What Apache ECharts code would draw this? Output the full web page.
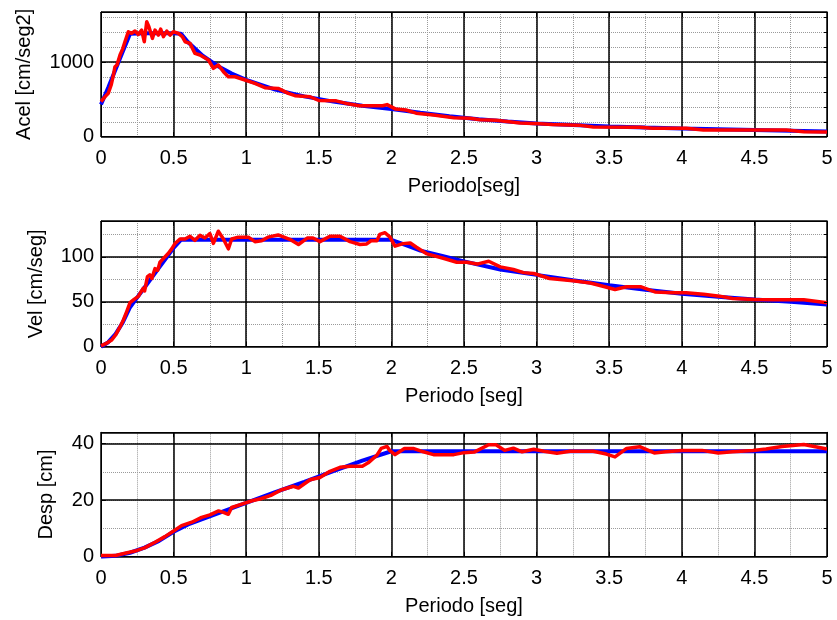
<!DOCTYPE html>
<html>
<head>
<meta charset="utf-8">
<script src="https://cdn.jsdelivr.net/npm/echarts@6/dist/echarts.min.js"></script>
<style>
  html, body { margin: 0; padding: 0; background: #fff; }
  #chart { width: 837px; height: 620px; }
</style>
</head>
<body>
<div id="chart"></div>
<script>
// ---- Target (design) spectra, blue ----
const periodAccTarget = [0, 0.05, 0.1, 0.15, 0.2, 0.3, 0.4, 0.5, 0.55, 0.6, 0.7, 0.8, 0.9, 1.0, 1.2, 1.4, 1.6, 1.8, 2.0, 2.2, 2.4, 2.6, 2.8, 3.0, 3.25, 3.5, 3.75, 4.0, 4.25, 4.5, 4.75, 5.0];
const accTarget = [430, 660, 900, 1140, 1380, 1385, 1385, 1385, 1380, 1265, 1085, 950, 845, 760, 630, 540, 470, 415, 370, 320, 275, 235, 205, 178, 158, 138, 123, 110, 100, 90, 80, 70];

const periodVelTarget = [0, 0.05, 0.1, 0.15, 0.2, 0.25, 0.3, 0.35, 0.4, 0.45, 0.5, 0.55, 1.0, 1.5, 2.0, 2.1, 2.2, 2.35, 2.5, 2.75, 3.0, 3.25, 3.5, 3.75, 4.0, 4.25, 4.5, 4.75, 5.0];
const velTarget = [0, 5, 14, 27, 44, 55, 66, 77, 88, 99, 110, 119, 119, 119, 119, 113, 107, 101, 95, 86, 80, 74, 68.5, 63.5, 59, 55.5, 52.5, 50, 47];

const periodDispTarget = [0, 0.1, 0.2, 0.3, 0.4, 0.5, 0.6, 0.8, 1.0, 1.2, 1.4, 1.6, 1.8, 2.0, 2.5, 3.0, 3.5, 4.0, 4.5, 5.0];
const dispTarget = [0, 0.3, 1.4, 3.2, 5.6, 8.8, 11.4, 15.2, 19, 22.8, 26.5, 30.3, 34, 37.3, 37.3, 37.3, 37.3, 37.3, 37.3, 37.3];

// ---- Spectra of the matched record, red ----
const periodAccRecord = [0, 0.03, 0.05, 0.07, 0.085, 0.096, 0.11, 0.131, 0.15, 0.165, 0.188, 0.211, 0.234, 0.257, 0.28, 0.298, 0.315, 0.33, 0.354, 0.372, 0.395, 0.411, 0.43, 0.453, 0.476, 0.498, 0.533, 0.56, 0.579, 0.613, 0.647, 0.682, 0.74, 0.774, 0.808, 0.843, 0.877, 0.923, 0.992, 1.06, 1.129, 1.22, 1.29, 1.336, 1.44, 1.5, 1.62, 1.7, 1.78, 1.94, 1.97, 2.03, 2.1, 2.17, 2.29, 2.43, 2.54, 2.61, 2.72, 2.886, 3.02, 3.11, 3.29, 3.39, 3.71, 3.8, 4.03, 4.148, 4.72, 4.84, 5.0];
const accRecord = [469, 540, 581, 692, 820, 937, 960, 1094, 1180, 1272, 1406, 1384, 1415, 1370, 1428, 1272, 1540, 1473, 1317, 1428, 1361, 1442, 1339, 1415, 1361, 1406, 1384, 1339, 1272, 1250, 1116, 1094, 1027, 916, 960, 871, 803, 803, 759, 715, 656, 647, 581, 550, 535, 485, 480, 440, 415, 415, 430, 370, 357, 315, 290, 255, 246, 228, 220, 182, 172, 163, 155, 130, 126, 113, 112, 90, 90, 65, 63];

const periodVelRecord = [0, 0.04, 0.074, 0.1, 0.131, 0.155, 0.177, 0.2, 0.23, 0.257, 0.29, 0.3, 0.32, 0.336, 0.35, 0.372, 0.39, 0.406, 0.44, 0.464, 0.487, 0.51, 0.544, 0.579, 0.613, 0.647, 0.682, 0.716, 0.75, 0.774, 0.808, 0.843, 0.877, 0.9, 0.946, 1.015, 1.06, 1.106, 1.15, 1.22, 1.3, 1.36, 1.42, 1.46, 1.508, 1.577, 1.646, 1.715, 1.784, 1.83, 1.86, 1.9, 1.92, 1.956, 1.99, 2.025, 2.08, 2.13, 2.17, 2.24, 2.357, 2.45, 2.52, 2.59, 2.67, 2.75, 2.84, 2.91, 2.98, 3.09, 3.25, 3.37, 3.47, 3.54, 3.62, 3.72, 3.815, 3.94, 4.03, 4.15, 4.26, 4.35, 4.5, 4.63, 4.84, 5.0];
const velRecord = [1, 4, 7.4, 13, 22, 30, 39, 49, 53, 56, 65, 62, 78, 80, 76, 87, 85, 94, 100, 104, 109, 115, 120, 120, 123, 118.5, 124, 121, 126, 115, 128.6, 120, 109, 120, 122, 122, 117, 118, 122, 124.5, 119.6, 113.8, 121, 121, 117, 123, 123, 117, 113.8, 114.5, 118, 118, 125, 127, 122, 112, 114.8, 115.5, 111, 103.7, 98.5, 94, 94, 92, 95.2, 88.9, 86, 82.5, 81.5, 76, 73.5, 71, 66.7, 63.7, 66.7, 66.7, 61, 60, 60, 58.5, 56.3, 53.7, 52.6, 52.2, 52.2, 49];

const periodDispRecord = [0, 0.1, 0.165, 0.234, 0.303, 0.372, 0.44, 0.5, 0.555, 0.625, 0.693, 0.75, 0.81, 0.843, 0.877, 0.9, 0.97, 1.04, 1.1, 1.17, 1.24, 1.325, 1.36, 1.44, 1.508, 1.577, 1.646, 1.715, 1.8, 1.84, 1.9, 1.93, 1.97, 1.99, 2.025, 2.09, 2.15, 2.22, 2.29, 2.43, 2.5, 2.57, 2.67, 2.72, 2.78, 2.84, 2.9, 2.98, 3.05, 3.14, 3.23, 3.39, 3.48, 3.54, 3.62, 3.71, 3.81, 3.89, 4.0, 4.14, 4.25, 4.35, 4.49, 4.58, 4.69, 4.84, 4.92, 5.0];
const dispRecord = [0.4, 0.4, 1.2, 2, 3.2, 5.1, 7.1, 9.1, 11, 12.2, 13.9, 14.8, 16.2, 15.7, 15, 17.4, 18.6, 19.8, 20.5, 21.7, 23.6, 24.9, 24.3, 27.2, 28, 30.2, 31.6, 32, 32, 33.2, 35.9, 38.3, 39, 37.5, 36.1, 38.3, 38.3, 37.1, 36.1, 36.1, 36.8, 37, 39.6, 39.6, 37.6, 38.4, 37.1, 38, 37.3, 36.6, 37.3, 37.3, 36.3, 35.3, 38.3, 38.9, 36.7, 37.1, 37.6, 37.6, 36.7, 37.1, 37.6, 38.1, 39, 39.7, 38.9, 38.1];

// ---- Axis definitions per panel ----
const xLabels = ['Periodo[seg]', 'Periodo [seg]', 'Periodo [seg]'];
const yLabels = ['Acel [cm/seg2]', 'Vel [cm/seg]', 'Desp [cm]'];
const yMax = [1670, 140, 44];
const yMajorStep = [1000, 50, 20];
const yMinorStep = [200, 25, 10];

const FONT = '"Liberation Sans", Arial, Helvetica, sans-serif';

const panels = [
  { top: 12, height: 124.7, nameGapY: 67,
    target: [periodAccTarget, accTarget], record: [periodAccRecord, accRecord] },
  { top: 221, height: 125.7, nameGapY: 55,
    target: [periodVelTarget, velTarget], record: [periodVelRecord, velRecord] },
  { top: 432.3, height: 124.4, nameGapY: 45,
    target: [periodDispTarget, dispTarget], record: [periodDispRecord, dispRecord] }
];

const zip = (xs, ys) => xs.map((x, i) => [x, ys[i]]);
const plainNumber = v => String(v);

const grid = [], xAxis = [], yAxis = [], series = [];

panels.forEach((p, i) => {
  grid.push({ left: 101, width: 726, top: p.top, height: p.height, show: false });

  const xBase = { gridIndex: i, type: 'value', min: 0, max: 5 };
  const yBase = { gridIndex: i, type: 'value', min: 0, max: yMax[i] };

  // minor dotted grid
  xAxis.push(Object.assign({}, xBase, {
    interval: 0.25, z: 0,
    axisLine: { show: false }, axisTick: { show: false }, axisLabel: { show: false },
    splitLine: { show: true, lineStyle: { color: '#9a9a9a', width: 1, type: [1, 1] } }
  }));
  // major grid, labels, bottom frame
  const xMajorIdx = xAxis.length;
  xAxis.push(Object.assign({}, xBase, {
    interval: 0.5, z: 1, position: 'bottom',
    name: xLabels[i], nameLocation: 'middle', nameGap: 40,
    nameTextStyle: { fontFamily: FONT, fontSize: 20, color: '#000' },
    axisLine: { show: true, lineStyle: { color: '#000', width: 1 } },
    axisTick: { show: true, inside: true, length: 5, lineStyle: { color: '#000', width: 1 } },
    axisLabel: { show: true, margin: 12, fontFamily: FONT, fontSize: 20, color: '#000', formatter: plainNumber },
    splitLine: { show: true, lineStyle: { color: '#000', width: 1.5 } }
  }));
  // top frame with inward ticks
  xAxis.push(Object.assign({}, xBase, {
    interval: 0.5, z: 3, position: 'top',
    axisLine: { show: true, onZero: false, lineStyle: { color: '#000', width: 1 } },
    axisTick: { show: true, inside: true, length: 5, lineStyle: { color: '#000' } },
    axisLabel: { show: false }, splitLine: { show: false }
  }));

  yAxis.push(Object.assign({}, yBase, {
    interval: yMinorStep[i], z: 0,
    axisLine: { show: false }, axisTick: { show: false }, axisLabel: { show: false },
    splitLine: { show: true, lineStyle: { color: '#9a9a9a', width: 1, type: [1, 1] } }
  }));
  const yMajorIdx = yAxis.length;
  yAxis.push(Object.assign({}, yBase, {
    interval: yMajorStep[i], z: 1, position: 'left',
    name: yLabels[i], nameLocation: 'middle', nameGap: p.nameGapY,
    nameTextStyle: { fontFamily: FONT, fontSize: 20, color: '#000' },
    axisLine: { show: true, lineStyle: { color: '#000', width: 1 } },
    axisTick: { show: true, inside: true, length: 5, lineStyle: { color: '#000' } },
    axisLabel: { show: true, margin: 7, showMaxLabel: false, fontFamily: FONT, fontSize: 20, color: '#000', formatter: plainNumber },
    splitLine: { show: true, lineStyle: { color: '#000', width: 1.5 } }
  }));
  // right frame with minor ticks
  yAxis.push(Object.assign({}, yBase, {
    interval: yMinorStep[i], z: 3, position: 'right',
    axisLine: { show: true, onZero: false, lineStyle: { color: '#000', width: 1 } },
    axisTick: { show: true, inside: true, length: 3, lineStyle: { color: '#000' } },
    axisLabel: { show: false }, splitLine: { show: false }
  }));

  series.push({
    type: 'line', xAxisIndex: xMajorIdx, yAxisIndex: yMajorIdx, z: 2,
    data: zip(p.target[0], p.target[1]), showSymbol: false, symbol: 'none',
    lineStyle: { color: '#0000ff', width: 4 }, animation: false, silent: true
  });
  series.push({
    type: 'line', xAxisIndex: xMajorIdx, yAxisIndex: yMajorIdx, z: 2,
    data: zip(p.record[0], p.record[1]), showSymbol: false, symbol: 'none',
    lineStyle: { color: '#ff0000', width: 3.5, join: 'round' }, animation: false, silent: true
  });
});

const chart = echarts.init(document.getElementById('chart'), null, { renderer: 'canvas' });
chart.setOption({
  backgroundColor: '#ffffff',
  animation: false,
  grid, xAxis, yAxis, series
});
</script>
</body>
</html>
